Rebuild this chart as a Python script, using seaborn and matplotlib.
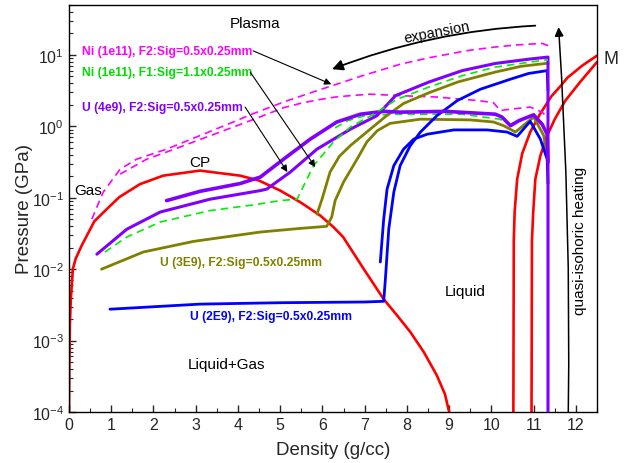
import matplotlib
matplotlib.use('Agg')
import numpy as np
import pandas as pd
import matplotlib.pyplot as plt
import seaborn as sns
from matplotlib.ticker import LogLocator, MultipleLocator, NullFormatter

# ---------------- data (density g/cc, pressure GPa) ----------------
# liquid-gas coexistence (binodal) curve, red
binodal_rho = [0.0, 0.01, 0.02, 0.04, 0.09, 0.16, 0.30, 0.60, 0.89, 1.19, 1.68, 2.23, 3.10,
               4.05, 4.50, 5.00, 5.47, 5.95, 6.26, 6.49, 6.98, 7.45, 7.77, 8.08, 8.40, 8.71, 8.90, 9.00]
binodal_p = [1e-4, 5.0e-4, 1.6e-3, 3.5e-3, 1.0e-2, 1.41e-2, 2.14e-2, 4.68e-2, 6.9e-2, 0.102, 0.155, 0.204, 0.240,
             0.204, 0.174, 0.126, 0.0871, 0.0562, 0.0389, 0.0282, 0.0100, 3.8e-3, 2.24e-3, 1.32e-3,
             6.9e-4, 3.24e-4, 1.78e-4, 1e-4]

# melting curves (M), red
melt1_rho = [10.52, 10.53, 10.55, 10.61, 10.73, 10.92, 11.14, 11.42, 11.63, 11.80, 12.15, 12.5]
melt1_p = [1e-4, 0.0251, 0.0631, 0.182, 0.417, 0.832, 1.45, 2.63, 3.63, 4.79, 7.08, 9.77]
melt2_rho = [10.95, 10.96, 10.99, 11.04, 11.16, 11.32, 11.50, 11.75, 12.10, 12.5]
melt2_p = [1e-4, 0.0251, 0.0631, 0.182, 0.389, 0.741, 1.26, 2.29, 4.17, 7.94]

# Ni (1e11), F2 (magenta dashed)
ni_f2_a_rho = [0.54, 0.81, 1.21, 1.60, 2.31, 3.89, 4.29, 5.08, 5.87, 6.34, 6.90, 7.84, 8.52, 9.43,
               10.09, 10.60, 11.20, 11.34]
ni_f2_a_p = [0.0501, 0.120, 0.251, 0.347, 0.479, 1.15, 1.45, 2.19, 3.16, 3.89, 5.01, 7.41, 9.12, 11.5,
             12.9, 13.8, 14.5, 13.5]
ni_f2_b_rho = [1.21, 1.84, 2.31, 3.89, 4.29, 5.08, 5.47, 5.87, 6.30, 6.66, 7.13, 7.84, 8.71, 9.70,
               10.05, 10.21, 10.45, 10.92, 11.20, 11.32]
ni_f2_b_p = [0.214, 0.347, 0.437, 0.977, 1.20, 1.82, 2.09, 2.34, 2.57, 2.69, 2.82, 2.69, 2.57, 2.29,
             2.14, 1.66, 1.74, 1.86, 1.58, 1.35]

# Ni (1e11), F1 (green dashed)
ni_f1_a_rho = [0.85, 1.37, 2.16, 3.34, 4.37, 5.00, 5.40, 5.79, 6.26, 6.66, 7.29, 7.77, 8.52, 9.31,
               10.09, 11.28, 11.34]
ni_f1_a_p = [0.0174, 0.0282, 0.0457, 0.0661, 0.0794, 0.0912, 0.0955, 0.282, 0.603, 0.977, 1.58, 2.40,
             3.55, 5.13, 6.76, 8.51, 8.51]
ni_f1_b_rho = [6.30, 6.60, 7.00, 7.73, 9.31, 9.93, 10.20, 10.45, 10.80, 11.00, 11.20, 11.34]
ni_f1_b_p = [0.955, 1.20, 1.41, 1.48, 1.48, 1.32, 1.26, 1.07, 1.32, 1.41, 1.12, 0.708]

# U (4e9), F2 (purple)
u4_a_rho = [11.34, 11.34, 10.88, 10.09, 9.31, 8.52, 7.73, 7.29, 6.66, 5.87, 5.24, 4.68, 4.53,
            3.34, 2.16, 1.37, 0.66]
u4_a_p = [1e-4, 9.33, 8.71, 7.59, 6.03, 4.17, 2.69, 1.41, 0.912, 0.479, 0.229, 0.132, 0.126,
          0.0955, 0.0631, 0.0363, 0.0162]
u4_b_rho = [2.31, 3.10, 4.05, 4.53, 5.08, 5.71, 6.34, 6.90, 7.45, 7.84, 8.91, 10.09, 10.25, 10.45,
            10.65, 11.00, 11.20, 11.32, 11.34]
u4_b_p = [0.0912, 0.123, 0.158, 0.195, 0.347, 0.661, 1.15, 1.48, 1.62, 1.58, 1.62, 1.48, 1.35, 1.02,
          1.20, 1.45, 1.07, 0.776, 0.316]

# U (3E9), F2 (olive)
u3_a_rho = [5.87, 5.99, 6.18, 6.40, 6.66, 7.13, 7.50, 7.92, 8.52, 9.20, 10.09, 10.70, 11.28, 11.34]
u3_a_p = [0.0589, 0.0955, 0.229, 0.380, 0.537, 0.912, 1.38, 2.09, 2.95, 4.17, 5.75, 6.92, 7.59, 7.59]
u3_b_rho = [0.77, 1.76, 2.95, 4.53, 5.47, 6.10, 6.22, 6.30, 6.50, 6.82, 7.05, 7.30, 7.60, 8.32,
            9.50, 10.05, 10.29, 10.57, 11.00, 11.24, 11.34]
u3_b_p = [0.0100, 0.0174, 0.0245, 0.0331, 0.0372, 0.0398, 0.0537, 0.0912, 0.166, 0.347, 0.603,
          0.871, 1.10, 1.26, 1.23, 1.15, 1.02, 0.832, 1.35, 0.741, 0.316]

# U (2E9), F2 (blue)
u2_a_rho = [7.37, 7.45, 7.53, 7.69, 7.92, 8.16, 8.48, 9.11, 9.90, 10.37, 10.61, 10.92, 11.16,
            11.32, 11.34]
u2_a_p = [0.0126, 0.0501, 0.132, 0.282, 0.479, 0.661, 0.776, 0.891, 0.891, 0.832, 0.724, 1.175,
          0.661, 0.347, 0.158]
u2_b_rho = [0.97, 3.10, 5.00, 7.00, 7.45, 7.49, 7.57, 7.69, 7.84, 8.08, 8.32, 8.71, 9.19, 9.74,
            10.45, 10.88, 11.32, 11.34]
u2_b_p = [2.75e-3, 3.24e-3, 3.39e-3, 3.47e-3, 3.55e-3, 7.24e-3, 0.0363, 0.120, 0.282, 0.537,
          0.832, 1.41, 2.29, 3.31, 4.57, 5.50, 6.03, 3.16]

x_ticks = [0, 1, 2, 3, 4, 5, 6, 7, 8, 9, 10, 11, 12]

# ---------------- style ----------------
sns.set_style('ticks')
plt.rcParams['font.family'] = ['Liberation Sans', 'DejaVu Sans']
plt.rcParams['mathtext.default'] = 'regular'
plt.rcParams['axes.linewidth'] = 1.0

fig = plt.figure(figsize=(6.29, 4.64), dpi=100)
ax = fig.add_axes([69 / 629, 1 - 413 / 464, (597 - 69) / 629, (413 - 6) / 464])
ax.set_yscale('log')

RED = '#ff0000'
MAG = '#ff00ff'
GRN = '#00ee00'
PUR = '#8000ff'
OLV = '#808000'
BLU = '#0000ff'


def draw(x, y, color, lw, ls='-', z=2):
    df = pd.DataFrame({'rho': x, 'p': y})
    sns.lineplot(data=df, x='rho', y='p', sort=False, estimator=None, color=color,
                 lw=lw, linestyle=ls, ax=ax, zorder=z)


dash = (0, (4.5, 3))
draw(binodal_rho, binodal_p, RED, 1.9, z=2)
draw(melt1_rho, melt1_p, RED, 1.9, z=2)
draw(melt2_rho, melt2_p, RED, 1.9, z=2)
draw(ni_f2_a_rho, ni_f2_a_p, MAG, 1.2, dash, z=3)
draw(ni_f2_b_rho, ni_f2_b_p, MAG, 1.2, dash, z=3)
draw(ni_f1_b_rho, ni_f1_b_p, GRN, 1.2, dash, z=3)
draw(u3_a_rho, u3_a_p, OLV, 2.0, z=4)
draw(u3_b_rho, u3_b_p, OLV, 2.0, z=4)
draw(u2_a_rho, u2_a_p, BLU, 2.0, z=4)
draw(u2_b_rho, u2_b_p, BLU, 2.0, z=4)
draw(u4_b_rho, u4_b_p, PUR, 2.6, z=5)
draw(u4_a_rho, u4_a_p, PUR, 2.2, z=5)
draw(ni_f1_a_rho, ni_f1_a_p, GRN, 1.2, dash, z=6)

# ---------------- axes ----------------
ax.set_xlim(0, 12.5)
ax.set_ylim(1e-4, 50)
ax.set_xticks(x_ticks)
ax.xaxis.set_minor_locator(MultipleLocator(0.5))
ax.yaxis.set_major_locator(LogLocator(base=10, numticks=20))
ax.yaxis.set_minor_locator(LogLocator(base=10, subs=np.arange(2, 10), numticks=20))
ax.yaxis.set_minor_formatter(NullFormatter())
ax.tick_params(which='both', direction='in', top=False, right=False, labelsize=11.5)
ax.tick_params(which='major', length=5, width=1.0)
ax.tick_params(which='minor', length=3, width=0.8)
ax.set_xlabel('Density (g/cc)', fontsize=13.5)
ax.set_ylabel('Pressure (GPa)', fontsize=13.5)
ax.xaxis.set_label_coords(0.5, -0.072)
ax.yaxis.set_label_coords(-0.068, 0.5)
for s in ax.spines.values():
    s.set_visible(True)
    s.set_color('black')

# ---------------- annotations ----------------
lab = dict(fontsize=8.7, fontweight='bold', ha='left', va='center')
ax.text(0.31, 11.4, 'Ni (1e11), F2:Sig=0.5x0.25mm', color=MAG, **lab)
ax.text(0.31, 5.75, 'Ni (1e11), F1:Sig=1.1x0.25mm', color='#00dd00', **lab)
ax.text(0.31, 1.86, 'U (4e9), F2:Sig=0.5x0.25mm', color=PUR, **lab)
ax.text(2.16, 0.0126, 'U (3E9), F2:Sig=0.5x0.25mm', color=OLV, **lab)
ax.text(2.87, 2.24e-3, 'U (2E9), F2:Sig=0.5x0.25mm', color=BLU, **lab)

arr = dict(arrowstyle='-|>', color='black', lw=0.8, mutation_scale=10, shrinkA=0, shrinkB=0)
ax.annotate('', xy=(6.21, 3.89), xytext=(4.36, 11.4), arrowprops=arr, zorder=7)
ax.annotate('', xy=(5.83, 0.269), xytext=(4.29, 5.75), arrowprops=arr, zorder=7)
ax.annotate('', xy=(5.17, 0.229), xytext=(4.17, 1.86), arrowprops=arr, zorder=7)

big = dict(arrowstyle='-|>', color='black', lw=1.3, mutation_scale=16, shrinkA=0, shrinkB=0)
ax.annotate('', xy=(6.23, 6.31), xytext=(11.04, 25.7),
            arrowprops=dict(connectionstyle='arc3,rad=0.08', **big), zorder=7)
ax.annotate('', xy=(11.59, 24.5), xytext=(11.82, 1e-4),
            arrowprops=dict(connectionstyle='arc3,rad=0.02', **dict(big, lw=1.1, mutation_scale=13)),
            zorder=7, annotation_clip=False)

txt = dict(fontsize=11, ha='center', va='center', color='black')
ax.text(4.41, 28.2, 'Plasma', **txt)
ax.text(8.70, 20.9, 'expansion', rotation=11, **dict(txt, fontsize=10.5))
ax.text(3.10, 0.32, 'CP', **txt)
ax.text(0.46, 0.13, 'Gas', **txt)
ax.text(9.38, 4.9e-3, 'Liquid', **txt)
ax.text(3.72, 4.7e-4, 'Liquid+Gas', **txt)
ax.text(12.09, 0.026, 'quasi-isohoric heating', rotation=90, **txt)
ax.text(1.012, 0.869, 'M', transform=ax.transAxes, fontsize=13, ha='left', va='center',
        clip_on=False)

fig.savefig('out.png', dpi=100)
